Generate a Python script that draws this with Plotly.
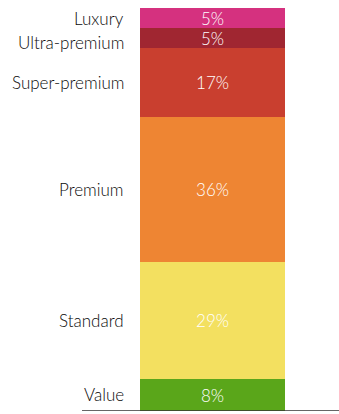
import plotly.graph_objects as go

# Market share by price segment, bottom to top
segments = ["Value", "Standard", "Premium", "Super-premium", "Ultra-premium", "Luxury"]
shares = [8, 29, 36, 17, 5, 5]
colors = ["#5AA61A", "#F3E060", "#EE8533", "#C93F2F", "#A02631", "#D5317F"]
label_nudge = [0, 0, 0, 0, -4, 0]  # keeps the two thin top labels apart

FONT = "Lato, 'Open Sans', sans-serif"

fig = go.Figure()
for name, val, col in zip(segments, shares, colors):
    fig.add_trace(go.Bar(
        x=["Share"], y=[val], name=name,
        marker=dict(color=col, line=dict(width=0)),
        text=[f"{val}%"], textposition="inside", insidetextanchor="middle",
        constraintext="none",
        textfont=dict(color="white", size=17, family=FONT, weight=300),
        hoverinfo="skip",
    ))

# Segment names to the left of the bar, centred on each block
base = 0
for name, val, dy in zip(segments, shares, label_nudge):
    fig.add_annotation(
        x=0, xref="paper", xanchor="right", xshift=-14,
        y=base + val / 2, yref="y", yanchor="middle", yshift=dy,
        text=name, showarrow=False,
        font=dict(size=17, color="#0a0a0a", family=FONT, weight=300),
    )
    base += val

# Baseline rule under the bar
fig.add_shape(type="line", xref="paper", yref="y",
              x0=-0.4, x1=1.38, y0=0, y1=0,
              line=dict(color="#333333", width=1.5))

fig.update_layout(
    barmode="stack", bargap=0, showlegend=False,
    width=339, height=414,
    margin=dict(l=140, r=54, t=8, b=3),
    plot_bgcolor="white", paper_bgcolor="white",
    xaxis=dict(visible=False),
    yaxis=dict(visible=False, range=[0, sum(shares)]),
)

fig.write_html("out.html")
